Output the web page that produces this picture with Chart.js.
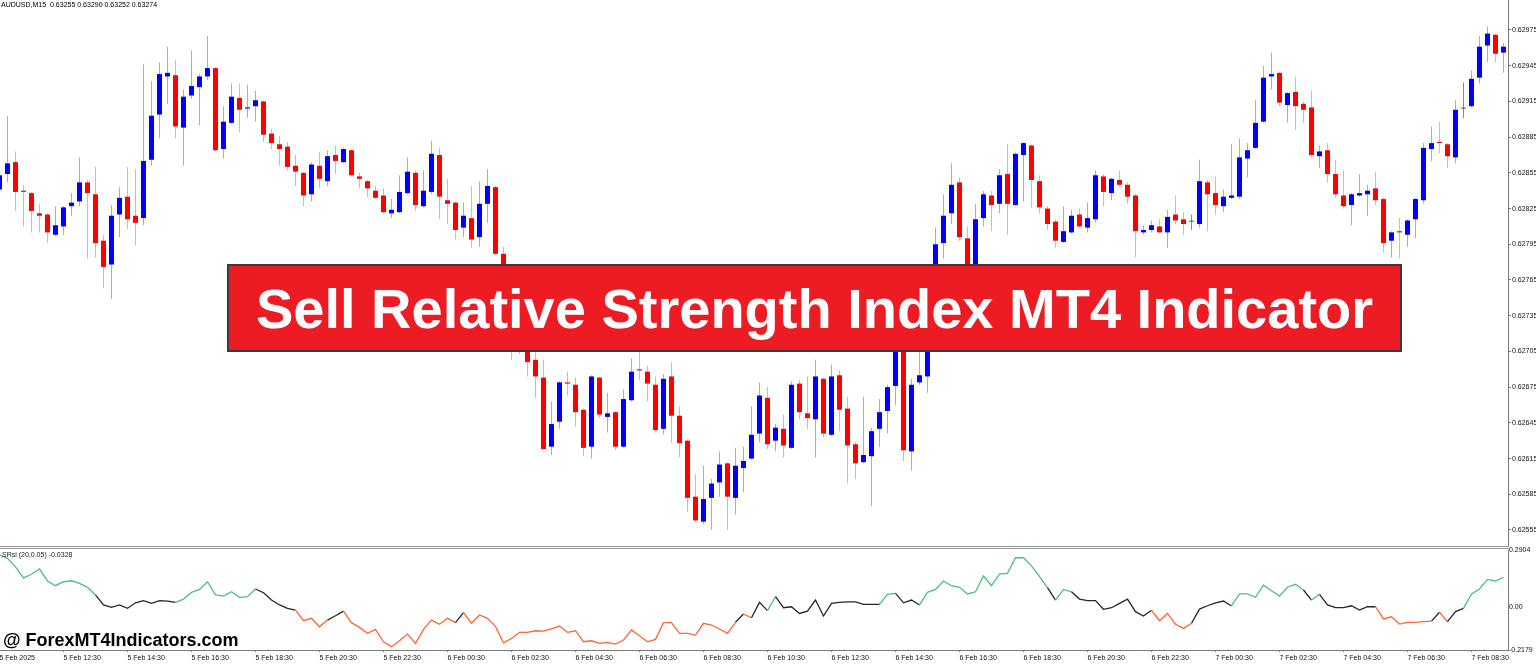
<!DOCTYPE html>
<html>
<head>
<meta charset="utf-8">
<script src="https://cdn.jsdelivr.net/npm/chart.js@4.4.1/dist/chart.umd.min.js"></script>
<style>
html,body{margin:0;padding:0;background:#fff;width:1536px;height:665px;overflow:hidden;font-family:"Liberation Sans",Arial,sans-serif;}
canvas{position:absolute;left:0;display:block;}
#main{top:0;}
#ind{top:546px;}
.txt{position:absolute;white-space:nowrap;line-height:1;color:#000;}
#title{left:1px;top:1px;font-size:7px;}
#srsiTitle{left:2px;top:551px;font-size:7px;color:#222;}
#sep1{position:absolute;left:0;top:546px;width:1509px;height:1px;background:#9a9a9a;}
#sep2{position:absolute;left:0;top:548px;width:1509px;height:1px;background:#9a9a9a;}
#banner{position:absolute;left:227px;top:264px;width:1171px;height:84px;background:#ed1c24;border:2px solid #3a3a3a;display:flex;align-items:center;justify-content:center;color:#fff;font-weight:bold;font-size:56px;font-family:"Liberation Sans",Arial,sans-serif;}
#wm{left:3px;top:631px;font-size:18px;font-weight:bold;}
</style>
</head>
<body>
<canvas id="main" width="1536" height="546"></canvas>
<canvas id="ind" width="1536" height="119"></canvas>
<div id="sep1"></div><div id="sep2"></div>
<div class="txt" id="title">AUDUSD,M15&nbsp; 0.63255 0.63290 0.63252 0.63274</div>
<div class="txt" id="srsiTitle">SRsi (20,0.05) -0.0328</div>
<div id="banner">Sell Relative Strength Index MT4 Indicator</div>
<div class="txt" id="wm">@ ForexMT4Indicators.com</div>
<script>
const timeLabels = ["5 Feb 2025","5 Feb 12:30","5 Feb 14:30","5 Feb 16:30","5 Feb 18:30","5 Feb 20:30","5 Feb 22:30","6 Feb 00:30","6 Feb 02:30","6 Feb 04:30","6 Feb 06:30","6 Feb 08:30","6 Feb 10:30","6 Feb 12:30","6 Feb 14:30","6 Feb 16:30","6 Feb 18:30","6 Feb 20:30","6 Feb 22:30","7 Feb 00:30","7 Feb 02:30","7 Feb 04:30","7 Feb 06:30","7 Feb 08:30"];
const priceTicks = [0.62555,0.62585,0.62615,0.62645,0.62675,0.62705,0.62735,0.62765,0.62795,0.62825,0.62855,0.62885,0.62915,0.62945,0.62975];
const srsiTicks = [0.2904, 0, -0.2179];

const open = [
0.62841,0.62854,0.62864,0.62840,0.62838,0.62821,0.62820,0.62803,0.62810,0.62827,
0.62831,0.62847,0.62837,0.62798,0.62778,0.62820,0.62835,0.62819,0.62817,0.62866,
0.62904,0.62936,0.62937,0.62893,0.62920,0.62927,0.62936,0.62943,0.62875,0.62897,
0.62918,0.62909,0.62911,0.62915,0.62888,0.62879,0.62877,0.62861,0.62855,0.62837,
0.62861,0.62848,0.62870,0.62864,0.62874,0.62852,0.62848,0.62840,0.62836,0.62821,
0.62822,0.62838,0.62855,0.62827,0.62839,0.62870,0.62832,0.62830,0.62809,0.62817,
0.62801,0.62829,0.62843,0.62787,0.62756,0.62716,0.62723,0.62698,0.62683,0.62625,
0.62646,0.62679,0.62677,0.62656,0.62625,0.62683,0.62650,0.62654,0.62625,0.62664,
0.62690,0.62688,0.62677,0.62640,0.62684,0.62651,0.62630,0.62583,0.62562,0.62582,
0.62595,0.62611,0.62582,0.62607,0.62615,0.62636,0.62666,0.62630,0.62640,0.62624,
0.62678,0.62653,0.62648,0.62682,0.62635,0.62685,0.62657,0.62627,0.62612,0.62617,
0.62640,0.62655,0.62676,0.62723,0.62621,0.62679,0.62684,0.62748,0.62796,0.62821,
0.62847,0.62800,0.62762,0.62817,0.62836,0.62829,0.62854,0.62828,0.62870,0.62878,
0.62848,0.62825,0.62814,0.62797,0.62805,0.62820,0.62809,0.62816,0.62852,0.62838,
0.62849,0.62845,0.62836,0.62805,0.62807,0.62810,0.62805,0.62820,0.62816,0.62814,
0.62812,0.62847,0.62838,0.62827,0.62834,0.62835,0.62867,0.62876,0.62898,0.62936,
0.62939,0.62912,0.62923,0.62913,0.62910,0.62869,0.62874,0.62854,0.62836,0.62828,
0.62836,0.62837,0.62842,0.62833,0.62798,0.62806,0.62803,0.62816,0.62832,0.62875,
0.62881,0.62879,0.62868,0.62909,0.62911,0.62935,0.62962,0.62971,0.62956];

const high = [
0.62857,0.62903,0.62873,0.62845,0.62839,0.62829,0.62821,0.62827,0.62827,0.62838,
0.62868,0.62849,0.62860,0.62803,0.62828,0.62843,0.62860,0.62858,0.62946,0.62932,
0.62948,0.62961,0.62950,0.62925,0.62958,0.62938,0.62970,0.62944,0.62911,0.62930,
0.62930,0.62929,0.62924,0.62916,0.62892,0.62886,0.62881,0.62870,0.62856,0.62864,
0.62872,0.62874,0.62878,0.62876,0.62875,0.62855,0.62849,0.62844,0.62842,0.62833,
0.62853,0.62868,0.62857,0.62857,0.62882,0.62876,0.62850,0.62831,0.62830,0.62844,
0.62848,0.62858,0.62844,0.62793,0.62761,0.62735,0.62730,0.62706,0.62698,0.62663,
0.62680,0.62688,0.62683,0.62657,0.62685,0.62684,0.62670,0.62655,0.62673,0.62699,
0.62706,0.62693,0.62684,0.62686,0.62696,0.62659,0.62631,0.62602,0.62609,0.62598,
0.62621,0.62612,0.62624,0.62625,0.62659,0.62679,0.62675,0.62644,0.62652,0.62680,
0.62681,0.62684,0.62698,0.62683,0.62694,0.62689,0.62667,0.62629,0.62667,0.62641,
0.62665,0.62677,0.62730,0.62727,0.62682,0.62710,0.62755,0.62809,0.62837,0.62863,
0.62851,0.62810,0.62829,0.62840,0.62840,0.62858,0.62879,0.62872,0.62881,0.62879,
0.62853,0.62827,0.62816,0.62827,0.62824,0.62825,0.62830,0.62857,0.62854,0.62851,
0.62857,0.62847,0.62837,0.62811,0.62815,0.62816,0.62824,0.62836,0.62822,0.62820,
0.62866,0.62849,0.62852,0.62841,0.62879,0.62884,0.62880,0.62916,0.62945,0.62956,
0.62940,0.62923,0.62936,0.62915,0.62924,0.62878,0.62880,0.62866,0.62857,0.62838,
0.62854,0.62845,0.62856,0.62834,0.62806,0.62817,0.62816,0.62834,0.62880,0.62894,
0.62898,0.62880,0.62916,0.62931,0.62941,0.62970,0.62978,0.62972,0.62964];

const low = [
0.62836,0.62847,0.62823,0.62810,0.62805,0.62805,0.62796,0.62802,0.62803,0.62819,
0.62827,0.62783,0.62784,0.62758,0.62749,0.62801,0.62808,0.62794,0.62811,0.62861,
0.62884,0.62913,0.62884,0.62861,0.62917,0.62895,0.62933,0.62873,0.62867,0.62896,
0.62889,0.62901,0.62898,0.62881,0.62875,0.62861,0.62857,0.62844,0.62827,0.62831,
0.62842,0.62844,0.62854,0.62863,0.62852,0.62842,0.62835,0.62833,0.62821,0.62817,
0.62821,0.62837,0.62823,0.62826,0.62837,0.62816,0.62812,0.62799,0.62801,0.62792,
0.62793,0.62813,0.62786,0.62752,0.62698,0.62703,0.62684,0.62666,0.62622,0.62618,
0.62640,0.62668,0.62642,0.62617,0.62615,0.62649,0.62637,0.62622,0.62624,0.62663,
0.62681,0.62663,0.62637,0.62635,0.62628,0.62616,0.62570,0.62562,0.62560,0.62555,
0.62583,0.62555,0.62568,0.62587,0.62614,0.62629,0.62623,0.62621,0.62616,0.62623,
0.62648,0.62640,0.62616,0.62633,0.62634,0.62638,0.62594,0.62598,0.62611,0.62575,
0.62625,0.62636,0.62660,0.62613,0.62605,0.62677,0.62670,0.62744,0.62783,0.62812,
0.62798,0.62755,0.62756,0.62810,0.62806,0.62821,0.62803,0.62827,0.62831,0.62826,
0.62821,0.62807,0.62792,0.62796,0.62804,0.62809,0.62805,0.62813,0.62827,0.62832,
0.62844,0.62829,0.62784,0.62803,0.62805,0.62804,0.62792,0.62812,0.62803,0.62807,
0.62809,0.62806,0.62820,0.62822,0.62833,0.62833,0.62851,0.62875,0.62897,0.62925,
0.62911,0.62897,0.62891,0.62897,0.62868,0.62859,0.62847,0.62834,0.62825,0.62811,
0.62835,0.62819,0.62828,0.62788,0.62784,0.62783,0.62793,0.62800,0.62829,0.62865,
0.62871,0.62859,0.62863,0.62901,0.62910,0.62930,0.62948,0.62948,0.62939];

const close = [
0.62853,0.62863,0.62839,0.62839,0.62823,0.62819,0.62805,0.62811,0.62826,0.62830,
0.62847,0.62838,0.62796,0.62776,0.62819,0.62834,0.62816,0.62813,0.62865,0.62903,
0.62938,0.62939,0.62894,0.62919,0.62928,0.62936,0.62943,0.62874,0.62898,0.62919,
0.62908,0.62910,0.62916,0.62887,0.62880,0.62875,0.62860,0.62856,0.62836,0.62862,
0.62850,0.62869,0.62865,0.62875,0.62853,0.62850,0.62842,0.62834,0.62822,0.62824,
0.62839,0.62856,0.62828,0.62840,0.62871,0.62835,0.62829,0.62807,0.62819,0.62799,
0.62829,0.62844,0.62787,0.62756,0.62719,0.62727,0.62696,0.62684,0.62623,0.62644,
0.62679,0.62678,0.62654,0.62624,0.62684,0.62652,0.62653,0.62625,0.62665,0.62688,
0.62689,0.62678,0.62639,0.62682,0.62651,0.62628,0.62582,0.62563,0.62581,0.62594,
0.62610,0.62583,0.62609,0.62613,0.62635,0.62668,0.62627,0.62641,0.62626,0.62677,
0.62654,0.62649,0.62684,0.62636,0.62684,0.62656,0.62626,0.62611,0.62618,0.62638,
0.62654,0.62675,0.62723,0.62622,0.62677,0.62685,0.62748,0.62795,0.62819,0.62845,
0.62801,0.62761,0.62816,0.62837,0.62828,0.62853,0.62829,0.62871,0.62880,0.62849,
0.62826,0.62812,0.62798,0.62806,0.62819,0.62810,0.62817,0.62853,0.62839,0.62850,
0.62845,0.62835,0.62806,0.62807,0.62811,0.62805,0.62818,0.62815,0.62812,0.62814,
0.62848,0.62837,0.62828,0.62835,0.62836,0.62868,0.62874,0.62897,0.62935,0.62938,
0.62914,0.62922,0.62911,0.62908,0.62870,0.62873,0.62854,0.62837,0.62827,0.62837,
0.62838,0.62840,0.62832,0.62796,0.62805,0.62805,0.62815,0.62833,0.62876,0.62880,
0.62880,0.62869,0.62908,0.62909,0.62934,0.62961,0.62972,0.62955,0.62961];

const srsi = [
0.265,0.248,0.205,0.149,0.167,0.194,0.133,0.109,0.129,0.134,
0.121,0.101,0.062,0.011,-0.001,0.011,-0.006,0.022,0.033,0.019,
0.033,0.031,0.024,0.041,0.075,0.090,0.129,0.062,0.056,0.078,
0.050,0.053,0.092,0.073,0.036,0.011,-0.006,-0.015,-0.069,-0.057,
-0.100,-0.066,-0.044,-0.020,-0.079,-0.103,-0.133,-0.113,-0.176,-0.201,
-0.171,-0.137,-0.184,-0.113,-0.066,-0.087,-0.057,-0.079,-0.028,-0.082,
-0.040,-0.057,-0.098,-0.181,-0.159,-0.128,-0.128,-0.120,-0.122,-0.111,
-0.096,-0.128,-0.120,-0.176,-0.171,-0.184,-0.179,-0.188,-0.167,-0.116,
-0.145,-0.176,-0.164,-0.079,-0.079,-0.133,-0.133,-0.142,-0.082,-0.091,
-0.111,-0.133,-0.077,-0.035,-0.054,0.024,-0.018,0.053,-0.003,0.002,
-0.032,-0.020,0.036,-0.045,0.019,0.024,0.027,0.027,0.014,0.014,
0.014,0.065,0.070,0.022,0.036,0.011,0.075,0.090,0.133,0.109,
0.101,0.067,0.078,0.158,0.109,0.168,0.172,0.251,0.251,0.210,
0.155,0.099,0.036,0.090,0.078,0.041,0.033,0.033,-0.011,-0.003,
0.019,0.041,-0.023,-0.045,-0.016,-0.069,-0.032,-0.087,-0.108,-0.082,
-0.010,0.007,0.022,0.031,0.006,0.067,0.067,0.050,0.112,0.083,
0.056,0.101,0.116,0.087,0.036,0.065,0.011,-0.003,-0.003,0.007,
-0.015,0.002,0.002,-0.060,-0.049,-0.086,-0.077,-0.077,-0.074,-0.071,
-0.026,-0.074,-0.023,-0.006,0.067,0.092,0.141,0.133,0.152];

// signal state of each SRsi step: 1 = up (green), 0 = neutral (black), -1 = down (orange)
const srsiState = [
1,1,1,1,1,1,1,1,1,1,
1,1,1,0,0,0,0,0,0,0,
0,0,0,1,1,1,1,1,1,1,
1,1,1,0,0,0,0,0,-1,-1,
-1,-1,0,0,-1,-1,-1,-1,-1,-1,
-1,-1,-1,-1,-1,-1,-1,-1,0,-1,
-1,-1,-1,-1,-1,-1,-1,-1,-1,-1,
-1,-1,-1,-1,-1,-1,-1,-1,-1,-1,
-1,-1,-1,-1,-1,-1,-1,-1,-1,-1,
-1,-1,-1,0,-1,0,0,1,0,0,
0,0,0,0,0,0,0,0,0,0,
0,1,1,0,0,0,1,1,1,1,
1,1,1,1,1,1,1,1,1,1,
1,1,0,1,1,0,0,0,0,0,
0,0,0,0,0,-1,-1,-1,-1,-1,
0,0,0,0,0,1,1,1,1,1,
1,1,1,1,0,1,0,0,0,0,
0,0,0,-1,-1,-1,-1,-1,-1,-1,
0,-1,0,0,1,1,1,1,1];

Chart.defaults.font.family = '"Liberation Sans", Arial, sans-serif';
Chart.defaults.color = '#000';

const X_MIN = 0.0625, X_MAX = 188.5625;
const idx = open.map((_, i) => i);
const bodyCol = idx.map(i => close[i] > open[i] ? '#0000ff' : (close[i] < open[i] ? '#ff0000' : '#555555'));
const wickCol = idx.map(i => close[i] > open[i] ? '#a4a4ff' : (close[i] < open[i] ? '#ffa4a4' : '#8a8a8a'));
const stateCol = {'1': '#4cbf7f', '0': '#262626', '-1': '#ff6633'};

new Chart(document.getElementById('main'), {
  type: 'bar',
  data: {
    datasets: [
      {data: idx.map(i => ({x: i, y: [low[i], high[i]]})), backgroundColor: wickCol, barThickness: 1, grouped: false, inflateAmount: 0, order: 2},
      {data: idx.map(i => ({x: i, y: [open[i], close[i]]})), backgroundColor: bodyCol, barThickness: 5, minBarLength: 1, grouped: false, inflateAmount: 0, order: 1}
    ]
  },
  options: {
    responsive: false, animation: false, devicePixelRatio: 1,
    layout: {padding: 0},
    plugins: {legend: {display: false}, tooltip: {enabled: false}},
    events: [],
    scales: {
      x: {type: 'linear', min: X_MIN, max: X_MAX, offset: false, display: false},
      y: {
        position: 'right', min: 0.6254156, max: 0.630002,
        afterBuildTicks: s => { s.ticks = priceTicks.map(v => ({value: v})); },
        afterFit: s => { s.width = 28; s.paddingTop = 0; s.paddingBottom = 0; },
        ticks: {callback: v => Number(v).toFixed(5), font: {size: 7}, color: '#111', padding: 1},
        grid: {drawOnChartArea: false, drawTicks: true, tickLength: 3, color: '#7a7a7a'},
        border: {display: true, color: '#7a7a7a', width: 1}
      }
    }
  }
});

new Chart(document.getElementById('ind'), {
  type: 'line',
  data: {
    datasets: [{
      data: idx.map(i => ({x: i, y: srsi[i]})),
      borderColor: '#262626', borderWidth: 1.3, pointRadius: 0, tension: 0,
      segment: {borderColor: ctx => stateCol[String(srsiState[ctx.p1DataIndex])]}
    }]
  },
  options: {
    responsive: false, animation: false, devicePixelRatio: 1,
    layout: {padding: {top: 4, left: 0, right: 0, bottom: 0}},
    plugins: {legend: {display: false}, tooltip: {enabled: false}},
    events: [],
    scales: {
      x: {
        type: 'linear', min: X_MIN, max: X_MAX, offset: false,
        afterBuildTicks: s => { s.ticks = timeLabels.map((_, i) => ({value: i * 8})); },
        afterFit: s => { s.height = 15; s.paddingLeft = 0; s.paddingRight = 0; },
        ticks: {autoSkip: false, maxRotation: 0, minRotation: 0, align: 'start', callback: (v, i) => timeLabels[i], font: {size: 7}, color: '#111', padding: 2},
        grid: {drawOnChartArea: false, drawTicks: true, tickLength: 2, color: '#7a7a7a'},
        border: {display: true, color: '#7a7a7a'}
      },
      y: {
        position: 'right', min: -0.2179, max: 0.2904,
        afterBuildTicks: s => { s.ticks = srsiTicks.map(v => ({value: v})); },
        afterFit: s => { s.width = 28; s.paddingTop = 0; s.paddingBottom = 0; },
        ticks: {callback: v => (v === 0 ? '0.00' : Number(v).toFixed(4)), font: {size: 7}, color: '#111', padding: 0},
        grid: {drawOnChartArea: false, drawTicks: true, tickLength: 1, color: '#7a7a7a'},
        border: {display: true, color: '#7a7a7a'}
      }
    }
  }
});
</script>
</body>
</html>
